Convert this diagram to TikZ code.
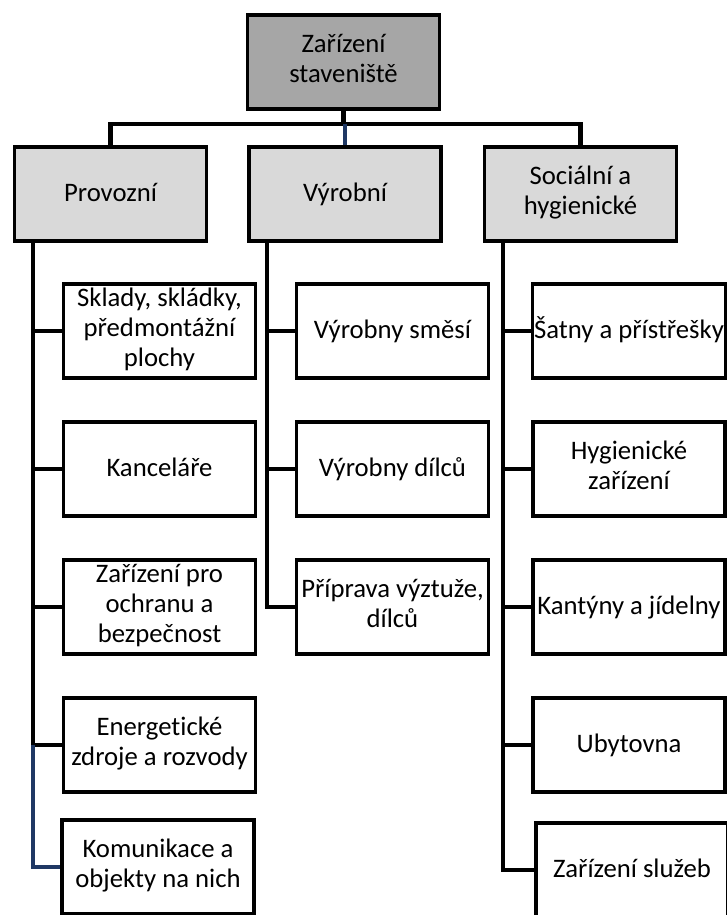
\documentclass[tikz,border=0pt]{standalone}
\usepackage{fontspec}
\setmainfont[Ligatures=NoCommon]{Carlito}
\definecolor{rootgray}{RGB}{166,166,166}
\definecolor{headgray}{RGB}{217,217,217}
\definecolor{linkblue}{RGB}{31,56,100}
\newcommand\boxstrut{\rule[-4.2pt]{0pt}{17.2pt}}
\begin{document}
\begin{tikzpicture}[x=0.02cm, y=-0.02cm,
    box/.style={draw, line width=2pt, minimum width=3.84cm, minimum height=1.88cm,
                align=center, inner sep=1pt, font=\fontsize{15.2}{17.2}\selectfont,
                execute at begin node=\boxstrut, execute at end node=\boxstrut},
    root/.style={box, fill=rootgray},
    head/.style={box, fill=headgray},
    conn/.style={line width=2.5pt, draw=black},
    connblue/.style={conn, draw=linkblue}
]
\useasboundingbox (0,0) rectangle (726,915);

\node[root] (root) at (343.5,62) {Zařízení\\staveniště};
\coordinate (bus) at (0,124);

\node[head] (prov) at (110.5,194) {Provozní};
\node[head] (vyr)  at (345,194)   {Výrobní};
\node[head] (soc)  at (580.5,194) {Sociální a\\hygienické};

% provozni
\node[box] (p1) at (159.5,331) {Sklady, skládky,\\předmontážní\\plochy};
\node[box] (p2) at (159.5,469) {Kanceláře};
\node[box] (p3) at (159.5,607) {Zařízení pro\\ochranu a\\bezpečnost};
\node[box] (p4) at (159.5,745) {Energetické\\zdroje a rozvody};
\node[box] (p5) at (158,867)   {Komunikace a\\objekty na nich};

% vyrobni
\node[box] (v1) at (392.5,331) {Výrobny směsí};
\node[box] (v2) at (392.5,469) {Výrobny dílců};
\node[box] (v3) at (392.5,607) {Příprava výztuže,\\dílců};

% socialni
\node[box] (s1) at (629,331) {Šatny a přístřešky};
\node[box] (s2) at (629,469) {Hygienické\\zařízení};
\node[box] (s3) at (629,607) {Kantýny a jídelny};
\node[box] (s4) at (629,745) {Ubytovna};
\node[box] (s5) at (632,870) {Zařízení služeb};

\draw[conn] (root.south) -- (root.south |- bus);
\draw[conn] (prov.north) -- (prov.north |- bus) -- (soc.north |- bus) -- (soc.north);
\draw[connblue] (vyr.north |- bus) -- (vyr.north);

\path (prov.south west) ++(20,0) coordinate (ls);
\path (vyr.south west) ++(20,0) coordinate (ms);
\path (soc.south west) ++(20,0) coordinate (rs);

\draw[conn] (ls) |- (p1.west);
\draw[conn] (ls) |- (p2.west);
\draw[conn] (ls) |- (p3.west);
\draw[conn] (ls) |- (p4.west);
\draw[connblue] (ls |- p4.west) |- (p5.west);

\draw[conn] (ms) |- (v1.west);
\draw[conn] (ms) |- (v2.west);
\draw[conn] (ms) |- (v3.west);

\draw[conn] (rs) |- (s1.west);
\draw[conn] (rs) |- (s2.west);
\draw[conn] (rs) |- (s3.west);
\draw[conn] (rs) |- (s4.west);
\draw[conn] (rs) |- (s5.west);

\end{tikzpicture}
\end{document}
